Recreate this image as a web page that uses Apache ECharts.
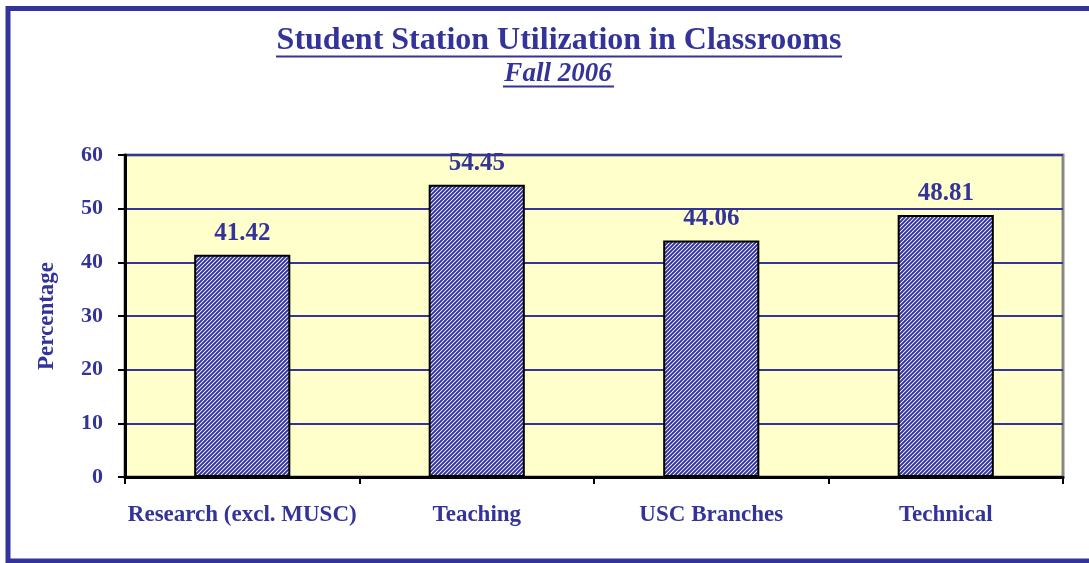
<!DOCTYPE html>
<html>
<head>
<meta charset="utf-8">
<script src="https://cdn.jsdelivr.net/npm/echarts@6/dist/echarts.min.js"></script>
<style>
  html, body { margin: 0; padding: 0; background: #fff; }
  #main { width: 1089px; height: 563px; }
</style>
</head>
<body>
<div id="main"></div>
<script>
// data
var categories = ['Research (excl. MUSC)', 'Teaching', 'USC Branches', 'Technical'];
var values = [41.42, 54.45, 44.06, 48.81];
var yTicks = [0, 10, 20, 30, 40, 50, 60];

var navy = '#333399';
var serif = '"Liberation Serif", "DejaVu Serif", serif';

// diagonal hatch for the bars
function makeHatch() {
    var c = document.createElement('canvas');
    c.width = 4;
    c.height = 4;
    var ctx = c.getContext('2d');
    for (var x = 0; x < 4; x++) {
        for (var y = 0; y < 4; y++) {
            var k = (x + y) % 4;
            if (k == 3) ctx.fillStyle = '#e6e6f4';
            else if (k == 0 || k == 2) ctx.fillStyle = '#5a5aae';
            else ctx.fillStyle = navy;
            ctx.fillRect(x, y, 1, 1);
        }
    }
    return c;
}

var myChart = echarts.init(document.getElementById('main'));
var option = {
    backgroundColor: '#ffffff',
    animation: false,
    graphic: [
        // outer frame
        {
            type: 'rect',
            shape: {x: 8, y: 8.5, width: 1100, height: 552.5},
            style: {fill: 'none', stroke: navy, lineWidth: 5}
        },
        {
            type: 'text',
            x: 559, y: 41,
            style: {
                text: 'Student Station Utilization in Classrooms',
                font: 'bold 32px ' + serif,
                fill: navy,
                align: 'center',
                verticalAlign: 'middle'
            }
        },
        {
            type: 'line',
            shape: {x1: 276, y1: 56.5, x2: 842, y2: 56.5},
            style: {stroke: navy, lineWidth: 2}
        },
        {
            type: 'text',
            x: 558, y: 74,
            style: {
                text: 'Fall 2006',
                font: 'italic bold 27px ' + serif,
                fill: navy,
                align: 'center',
                verticalAlign: 'middle'
            }
        },
        {
            type: 'line',
            shape: {x1: 503, y1: 86.5, x2: 614, y2: 86.5},
            style: {stroke: navy, lineWidth: 2}
        }
    ],
    grid: {
        left: 125,
        right: 26,
        top: 155,
        bottom: 86,
        show: true,
        backgroundColor: '#ffffcc',
        borderColor: '#888888',
        borderWidth: 3
    },
    xAxis: {
        type: 'category',
        data: categories,
        axisLine: {lineStyle: {color: '#000', width: 3}},
        axisTick: {show: true, length: 7, lineStyle: {color: '#000', width: 2}},
        axisLabel: {
            interval: 0,
            color: navy,
            fontFamily: serif,
            fontWeight: 'bold',
            fontSize: 23,
            margin: 27
        }
    },
    yAxis: {
        type: 'value',
        min: 0,
        max: 60,
        interval: 10,
        name: 'Percentage',
        nameLocation: 'middle',
        nameRotate: 90,
        nameGap: 66,
        nameTextStyle: {
            color: navy,
            fontFamily: serif,
            fontWeight: 'bold',
            fontSize: 23
        },
        axisLine: {show: true, lineStyle: {color: '#000', width: 3}},
        axisTick: {show: true, length: 7, lineStyle: {color: '#000', width: 2}},
        axisLabel: {
            color: navy,
            fontFamily: serif,
            fontWeight: 'bold',
            fontSize: 22,
            margin: 22,
            formatter: function (v) {
                return yTicks.indexOf(v) >= 0 ? String(v) : '';
            }
        },
        splitLine: {lineStyle: {color: navy, width: 2}}
    },
    series: [{
        type: 'bar',
        data: values,
        barWidth: '41%',
        itemStyle: {
            color: {image: makeHatch(), repeat: 'repeat'},
            borderColor: '#000',
            borderWidth: 2
        },
        label: {
            show: true,
            position: 'top',
            distance: 9,
            color: navy,
            fontFamily: serif,
            fontWeight: 'bold',
            fontSize: 25,
            formatter: function (p) {
                return p.value.toFixed(2);
            }
        }
    }]
};
myChart.setOption(option);
</script>
</body>
</html>
